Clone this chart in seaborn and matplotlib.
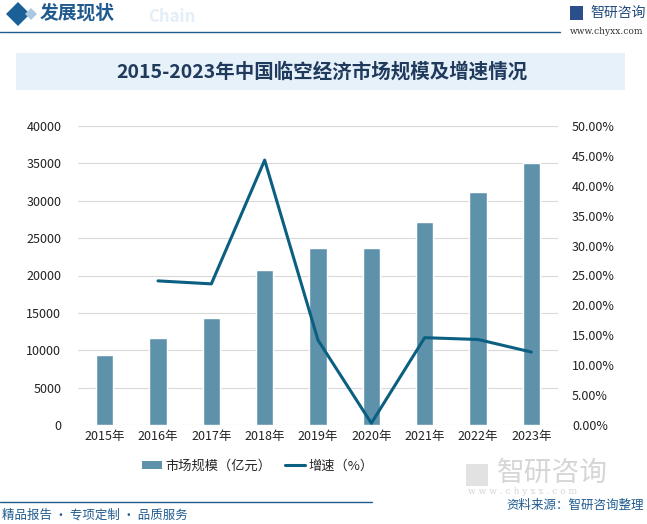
"""
2015-2023年中国临空经济市场规模及增速情况
"""
import numpy as np
import pandas as pd
import matplotlib
matplotlib.use('Agg')
import matplotlib.pyplot as plt
import seaborn as sns
from matplotlib.patches import Rectangle, Polygon
from matplotlib.lines import Line2D

# Data
years = ['2015年', '2016年', '2017年', '2018年', '2019年',
         '2020年', '2021年', '2022年', '2023年']
market_size = [9400, 11600, 14300, 20700, 23700, 23700, 27200, 31200, 35000]
growth_rate = [np.nan, 24.1, 23.6, 44.3, 14.2, 0.3, 14.6, 14.3, 12.2]
left_ticks = [0, 5000, 10000, 15000, 20000, 25000, 30000, 35000, 40000]
right_ticks = [0, 5, 10, 15, 20, 25, 30, 35, 40, 45, 50]

bar_color = '#5e92aa'
line_color = '#0b5f80'

sns.set_theme(style='white')
plt.rcParams['font.family'] = ['Noto Sans CJK SC', 'DejaVu Sans']

df = pd.DataFrame({'year': years, 'size': market_size, 'rate': growth_rate})

fig = plt.figure(figsize=(6.47, 5.24), dpi=100)
fig.patch.set_facecolor('white')

# Header
fig.patches.append(Polygon([[6 / 647, 1 - 14 / 524], [18 / 647, 1 - 2 / 524],
                            [30 / 647, 1 - 14 / 524], [18 / 647, 1 - 26 / 524]],
                           closed=True, transform=fig.transFigure,
                           facecolor='#1a5f96', edgecolor='none'))
fig.patches.append(Polygon([[25 / 647, 1 - 14 / 524], [31 / 647, 1 - 8 / 524],
                            [37 / 647, 1 - 14 / 524], [31 / 647, 1 - 20 / 524]],
                           closed=True, transform=fig.transFigure,
                           facecolor='#a9c9e3', edgecolor='none'))
fig.text(148 / 647, 1 - 17 / 524, 'Chain', fontsize=12, fontweight='bold',
         color='#e3eef7', ha='left', va='center')
fig.text(40 / 647, 1 - 13 / 524, '发展现状', fontsize=13.5, fontweight='bold',
         color='#1f5b8e', ha='left', va='center')
fig.add_artist(Line2D([0, 560 / 647], [1 - 32 / 524, 1 - 32 / 524],
                      color='#1f5b8e', lw=1.0))
fig.text(590 / 647, 1 - 13 / 524, '智研咨询', fontsize=10, color='#1f4a7a',
         ha='left', va='center')
fig.patches.append(Rectangle((570 / 647, 1 - 20 / 524), 13 / 647, 14 / 524,
                             transform=fig.transFigure, facecolor='#2a4f8a',
                             edgecolor='none'))
fig.text(570 / 647, 1 - 32 / 524, 'www.chyxx.com', fontsize=6.5, color='#333333',
         ha='left', va='center', family=['DejaVu Serif'])

# Title box
fig.patches.append(Rectangle((16 / 647, 1 - 90 / 524), 609 / 647, 37 / 524,
                             transform=fig.transFigure, facecolor='#e6f1fa',
                             edgecolor='none'))
fig.text(322 / 647, 1 - 72 / 524, '2015-2023年中国临空经济市场规模及增速情况',
         fontsize=14, fontweight='bold', color='#1f3a5c', ha='center', va='center')

# Main axes
ax = fig.add_axes([78 / 647, 1 - 425 / 524, 480 / 647, 299 / 524])
sns.barplot(data=df, x='year', y='size', color=bar_color, width=0.33,
            saturation=1, ax=ax)
ax.set_ylim(0, 40000)
ax.set_yticks(left_ticks)
ax.set_xlim(-0.5, len(years) - 0.5)
ax.grid(axis='y', color='#d9d9d9', lw=0.8)
ax.set_axisbelow(True)
for s in ax.spines.values():
    s.set_visible(False)
ax.set_xlabel('')
ax.set_ylabel('')
ax.tick_params(axis='both', length=0, labelsize=9, colors='#222222')
ax.tick_params(axis='y', pad=12)

ax2 = ax.twinx()
sns.lineplot(x=np.arange(len(years)), y=df['rate'], color=line_color, lw=2.2,
             ax=ax2)
ax2.set_ylim(0, 50)
ax2.set_yticks(right_ticks)
ax2.set_yticklabels(['%.2f%%' % t for t in right_ticks])
for s in ax2.spines.values():
    s.set_visible(False)
ax2.set_ylabel('')
ax2.tick_params(axis='y', length=0, labelsize=9, colors='#222222', pad=10)

# Legend
handles = [Rectangle((0, 0), 1, 1, facecolor=bar_color, edgecolor='none'),
           Line2D([0], [0], color=line_color, lw=2.2)]
fig.legend(handles, ['市场规模（亿元）', '增速（%）'], loc='center',
           bbox_to_anchor=(258 / 647, 1 - 466 / 524), ncol=2, frameon=False,
           fontsize=9.5, handlelength=1.5, handleheight=0.6, handletextpad=0.3,
           columnspacing=1.0)

# Footer watermark
fig.patches.append(Rectangle((466 / 647, 1 - 486 / 524), 22 / 647, 22 / 524,
                             transform=fig.transFigure, facecolor='#e2e2e2',
                             edgecolor='none'))
fig.text(497 / 647, 1 - 473 / 524, '智研咨询', fontsize=20, color='#d6d6d6',
         ha='left', va='center')
fig.text(468 / 647, 1 - 491 / 524, 'w w w . c h y x x . c o m', fontsize=6.5,
         color='#d6d6d6', ha='left', va='center', family=['DejaVu Serif'])

# Footer
fig.add_artist(Line2D([0, 372 / 647], [1 - 502 / 524, 1 - 502 / 524],
                      color='#1f5b8e', lw=1.0))
fig.text(2 / 647, 1 - 515 / 524, '精品报告 · 专项定制 · 品质服务', fontsize=9,
         color='#1f5b8e', ha='left', va='center')
fig.text(644 / 647, 1 - 505 / 524, '资料来源：智研咨询整理', fontsize=9,
         color='#1f5b8e', ha='right', va='center')

fig.savefig('out.png', dpi=100)
